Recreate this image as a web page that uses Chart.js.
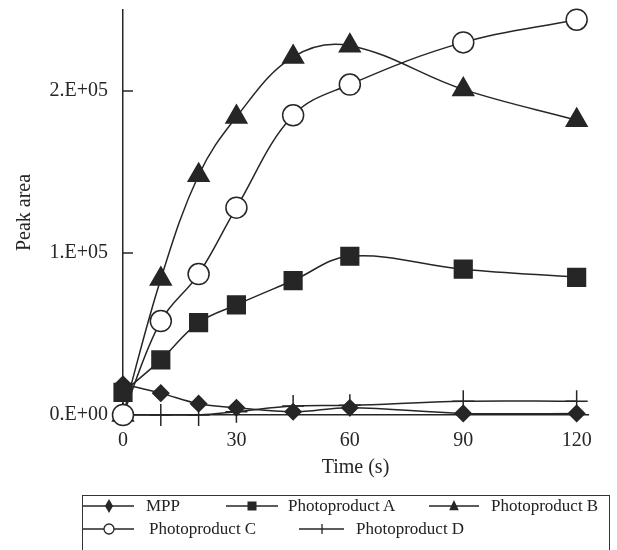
<!DOCTYPE html>
<html>
<head>
<meta charset="utf-8">
<script src="https://cdn.jsdelivr.net/npm/chart.js@4/dist/chart.umd.min.js"></script>
<style>
  html, body { margin: 0; padding: 0; background: #fff; overflow: hidden; }
  #wrap { position: relative; width: 617px; height: 550px; }
  #c { position: absolute; left: 0; top: 0; }
  #legend { position: absolute; left: 82px; top: 495px; width: 528px; height: 80px;
            border: 1.2px solid #333; box-sizing: border-box; }
  .item { position: absolute; display: flex; align-items: center;
          font: 17px "Liberation Serif", "Times New Roman", serif; color: #222; white-space: nowrap; }
</style>
</head>
<body>
<div id="wrap">
  <canvas id="c" width="617" height="550"></canvas>
  <div id="legend"></div>
</div>
<script>
// ---- data ----
const times = [0, 10, 20, 30, 45, 60, 90, 120];
const seriesNames = ["MPP", "Photoproduct A", "Photoproduct B", "Photoproduct C", "Photoproduct D"];
const mpp      = [19000, 13500, 7000, 4500, 2000, 4500, 1000, 1000];
const photoA   = [14000, 34000, 57000, 68000, 83000, 98000, 90000, 85000];
const photoB   = [0, 84000, 148000, 184000, 221000, 228000, 201000, 182000];
const photoC   = [0, 58000, 87000, 128000, 185000, 204000, 230000, 244000];
const photoD   = [0, 0, 0, 2000, 5500, 6000, 8500, 8500];
const xTicks = [0, 30, 60, 90, 120];
const yTicks = [0, 100000, 200000];
const yTickLabels = ["0.E+00", "1.E+05", "2.E+05"];

const ink = "#262626";
const FONT = "'Liberation Serif', 'Times New Roman', serif";

function pts(vals) { return vals.map((v, i) => ({ x: times[i], y: v })); }

const styles = [
  { pointStyle: "rectRot",  radius: 8,    fill: ink,    legendR: 6 },
  { pointStyle: "rect",     radius: 12.5, fill: ink,    legendR: 4.5 },
  { pointStyle: "triangle", radius: 12,   fill: ink,    legendR: 6 },
  { pointStyle: "circle",   radius: 10.5, fill: "#fff", legendR: 5 },
  { pointStyle: "cross",    radius: 11,   fill: ink,    legendR: 5 }
];
const allSeries = [mpp, photoA, photoB, photoC, photoD];

const datasets = allSeries.map((vals, i) => ({
  label: seriesNames[i],
  data: pts(vals),
  borderColor: ink,
  borderWidth: 1.5,
  tension: 0.38,
  pointStyle: styles[i].pointStyle,
  pointRadius: styles[i].radius,
  pointHoverRadius: styles[i].radius,
  pointBackgroundColor: styles[i].fill,
  pointBorderColor: ink,
  pointBorderWidth: 1.5,
  clip: false,
  fill: false
}));
// draw order: D, MPP, A, B, C on top
datasets[4].order = 5; datasets[0].order = 4; datasets[1].order = 3; datasets[2].order = 2; datasets[3].order = 1;

const inwardTicks = {
  id: "inwardTicks",
  afterDraw(chart) {
    const { ctx, chartArea, scales } = chart;
    ctx.save();
    ctx.strokeStyle = ink;
    ctx.lineWidth = 1.5;
    yTicks.forEach(v => {
      if (v === 0) return;
      const y = scales.y.getPixelForValue(v);
      ctx.beginPath();
      ctx.moveTo(chartArea.left, y);
      ctx.lineTo(chartArea.left + 10, y);
      ctx.stroke();
    });
    ctx.restore();
  }
};

function zeroPad(s) { s.paddingTop = 0; s.paddingBottom = 0; s.paddingLeft = 0; s.paddingRight = 0; }

new Chart(document.getElementById("c"), {
  type: "line",
  data: { datasets },
  plugins: [inwardTicks],
  options: {
    responsive: false,
    animation: false,
    events: [],
    layout: { autoPadding: false, padding: { left: 0, top: 10, right: 29, bottom: 65 } },
    plugins: { legend: { display: false }, tooltip: { enabled: false } },
    scales: {
      x: {
        type: "linear", min: 0, max: 123,
        afterBuildTicks: s => { s.ticks = xTicks.map(v => ({ value: v })); },
        afterFit: s => { s.height = 70; zeroPad(s); },
        grid: { display: false, drawTicks: false },
        border: { display: true, color: ink, width: 1.5 },
        ticks: { color: ink, font: { family: FONT, size: 20 }, padding: 14, maxRotation: 0 },
        title: { display: true, text: "Time (s)", color: ink,
                 font: { family: FONT, size: 20 }, padding: { top: 0, bottom: 5 } }
      },
      y: {
        min: 0, max: 250000,
        afterBuildTicks: s => { s.ticks = yTicks.map(v => ({ value: v })); },
        afterFit: s => { s.width = 123; zeroPad(s); },
        grid: { display: false, drawTicks: false },
        border: { display: true, color: ink, width: 1.5 },
        ticks: { color: ink, font: { family: FONT, size: 20 }, padding: 15,
                 callback: v => yTickLabels[yTicks.indexOf(v)] },
        title: { display: true, text: "Peak area", color: ink,
                 font: { family: FONT, size: 20 }, padding: { top: 13, bottom: 0 } }
      }
    }
  }
});

// ---- legend (HTML, real text) ----
const legendPos = [
  { left: 0,   top: 0,  w: 51, gap: 12 },
  { left: 143, top: 0,  w: 52, gap: 10 },
  { left: 346, top: 0,  w: 50, gap: 12 },
  { left: 0,   top: 23, w: 51, gap: 15 },
  { left: 216, top: 23, w: 45, gap: 12 }
];
function sampleSvg(i) {
  const s = styles[i], r = s.legendR, W = legendPos[i].w, cx = Math.round(W / 2), cy = 10;
  let m = "";
  if (s.pointStyle === "rectRot") m = `<polygon points="${cx},${cy-r-1} ${cx+r-2},${cy} ${cx},${cy+r+1} ${cx-r+2},${cy}" fill="${ink}"/>`;
  else if (s.pointStyle === "rect") m = `<rect x="${cx-r}" y="${cy-r}" width="${2*r}" height="${2*r}" fill="${ink}"/>`;
  else if (s.pointStyle === "triangle") m = `<polygon points="${cx},${cy-r} ${cx+r*0.8},${cy+r*0.7} ${cx-r*0.8},${cy+r*0.7}" fill="${ink}"/>`;
  else if (s.pointStyle === "circle") m = `<circle cx="${cx}" cy="${cy}" r="${r}" fill="#fff" stroke="${ink}" stroke-width="1.3"/>`;
  else m = `<line x1="${cx}" y1="${cy-r}" x2="${cx}" y2="${cy+r}" stroke="${ink}" stroke-width="1.3"/>`;
  return `<svg width="${W}" height="20" style="margin-right:${legendPos[i].gap}px"><line x1="0" y1="${cy}" x2="${W}" y2="${cy}" stroke="${ink}" stroke-width="1.3"/>${m}</svg>`;
}
const legend = document.getElementById("legend");
seriesNames.forEach((name, i) => {
  const d = document.createElement("div");
  d.className = "item";
  d.style.left = legendPos[i].left + "px";
  d.style.top = legendPos[i].top + "px";
  d.innerHTML = sampleSvg(i) + `<span>${name}</span>`;
  legend.appendChild(d);
});
</script>
</body>
</html>
